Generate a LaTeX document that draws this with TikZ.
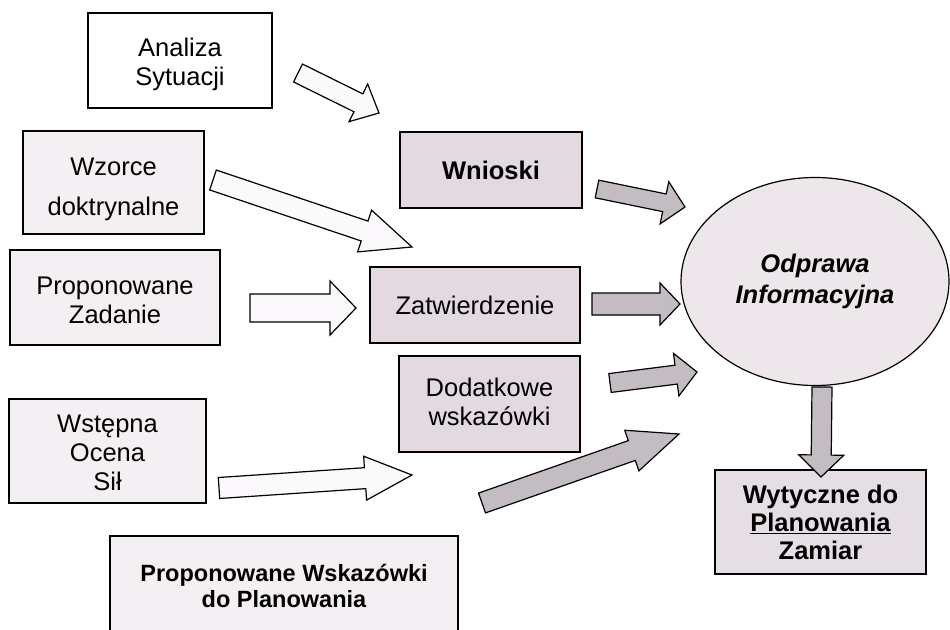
\documentclass[tikz,border=0pt]{standalone}
\usepackage{fontspec}
\setmainfont{Liberation Sans}
\usetikzlibrary{calc,shapes.geometric}
\definecolor{leftfill}{HTML}{F3EFF3}
\definecolor{midfill}{HTML}{E2D9E1}
\definecolor{ellfill}{HTML}{EDE7EC}
\definecolor{wytfill}{HTML}{E6DEE5}
\definecolor{darkarrow}{HTML}{C4BCC3}
\definecolor{lightarrow}{HTML}{FBF9FB}
\newcommand\barrow[6]{%
  \coordinate (#1-h) at ($(#2)!#5!(#1)$);
  \draw[#6] ($(#1)!#3!90:(#2)$) -- ($(#1-h)!#3!90:(#2)$) -- ($(#1-h)!#4!90:(#2)$) -- (#2)
    -- ($(#1-h)!#4!-90:(#2)$) -- ($(#1-h)!#3!-90:(#2)$) -- ($(#1)!#3!-90:(#2)$) -- cycle;
}
\begin{document}
\begin{tikzpicture}[x=1pt,y=-1pt,
  txt/.style={font=\fontsize{25.5}{29}\selectfont},
  box/.style={draw=black, line width=1.2pt, align=center, inner sep=0pt, txt},
  leftbox/.style={box, fill=leftfill},
  midbox/.style={box, fill=midfill},
  lbl/.style={align=center, inner sep=0pt, txt},
  lightarr/.style={draw=black, line width=1.2pt, fill=lightarrow, line join=miter},
  darkarr/.style={draw=black, line width=1.2pt, fill=darkarrow, line join=miter}]
\useasboundingbox (0,0) rectangle (950,629);
\clip (0,0) rectangle (950,629);
\fill[white] (0,0) rectangle (950,629);

% left boxes
\node[box, fill=white, minimum width=184pt, minimum height=95pt] (ana) at (180,60.5) {};
\node[lbl] (anat) at (180,64) {Analiza\\Sytuacji};
\node[leftbox, minimum width=181pt, minimum height=103pt] (wzo) at (113.5,182.5) {};
\node[lbl] (wzot) at (113.5,189) {Wzorce\\[11pt]doktrynalne};
\node[leftbox, minimum width=210pt, minimum height=95pt] (zad) at (115,297.5) {};
\node[lbl] (zadt) at (115,300) {Proponowane\\Zadanie};
\node[leftbox, minimum width=197pt, minimum height=104pt] (wst) at (107.5,451) {};
\node[lbl] (wstt) at (107.5,453) {Wstępna\\Ocena\\Sił};

% bottom box (cut off by the page edge)
\path[fill=leftfill] (110,536) rectangle (458,640);
\draw[line width=1.2pt] (110,640) -- (110,536) -- (458,536) -- (458,640);
\node[align=center, inner sep=0pt, font=\fontsize{23.5}{25.5}\selectfont\bfseries] (wsk) at (284,586) {Proponowane Wskazówki\\do Planowania};

% middle boxes
\node[midbox, minimum width=182pt, minimum height=76pt, font=\fontsize{25.5}{29}\selectfont\bfseries] (wni) at (491,170) {Wnioski};
\node[midbox, minimum width=210pt, minimum height=76pt] (zat) at (475,305) {Zatwierdzenie};
\node[midbox, minimum width=181pt, minimum height=96pt] (dod) at (489.5,404) {};
\node[lbl] (dodt) at (489.5,402) {Dodatkowe\\wskazówki};

% ellipse
\node[ellipse, draw=black, line width=1.2pt, fill=ellfill, minimum width=268pt, minimum height=208pt, inner sep=0pt, align=center,
  font=\fontsize{25.5}{31}\selectfont\bfseries\itshape] (odp) at (815,281.5) {Odprawa\\Informacyjna};

% result box
\node[box, fill=wytfill, minimum width=211pt, minimum height=104pt, font=\fontsize{25.5}{28}\selectfont\bfseries] (wyt) at (820.5,522) {Wytyczne do\\\underline{Planowania}\\Zamiar};

% arrow coordinates
\coordinate (a1t) at (298,73);   \coordinate (a1h) at (379,113);
\coordinate (a2t) at (213,180);  \coordinate (a2h) at (412,247);
\coordinate (a3t) at (250,308);  \coordinate (a3h) at (356,308);
\coordinate (a4t) at (219,488);  \coordinate (a4h) at (412,475);
\coordinate (a5t) at (482,503);  \coordinate (a5h) at (679,434);
\coordinate (a6t) at (597,189);  \coordinate (a6h) at (685,207);
\coordinate (a7t) at (592,304);  \coordinate (a7h) at (680,304);
\coordinate (a8t) at (610,383);  \coordinate (a8h) at (697,372);
\coordinate (a9t) at (822,387);  \coordinate (a9h) at (821,477);

% light block arrows
\barrow{a1t}{a1h}{10pt}{21pt}{23pt}{lightarr}
\barrow{a2t}{a2h}{10.5pt}{22pt}{50pt}{lightarr}
\barrow{a3t}{a3h}{14pt}{27pt}{26pt}{lightarr}
\barrow{a4t}{a4h}{10.5pt}{22pt}{47pt}{lightarr}

% dark block arrows
\barrow{a5t}{a5h}{10.5pt}{21.5pt}{50pt}{darkarr}
\barrow{a6t}{a6h}{9pt}{21.5pt}{21pt}{darkarr}
\barrow{a7t}{a7h}{11pt}{21pt}{20pt}{darkarr}
\barrow{a8t}{a8h}{9.5pt}{21.5pt}{21pt}{darkarr}
\barrow{a9t}{a9h}{10pt}{22.5pt}{22pt}{darkarr}
\end{tikzpicture}
\end{document}
